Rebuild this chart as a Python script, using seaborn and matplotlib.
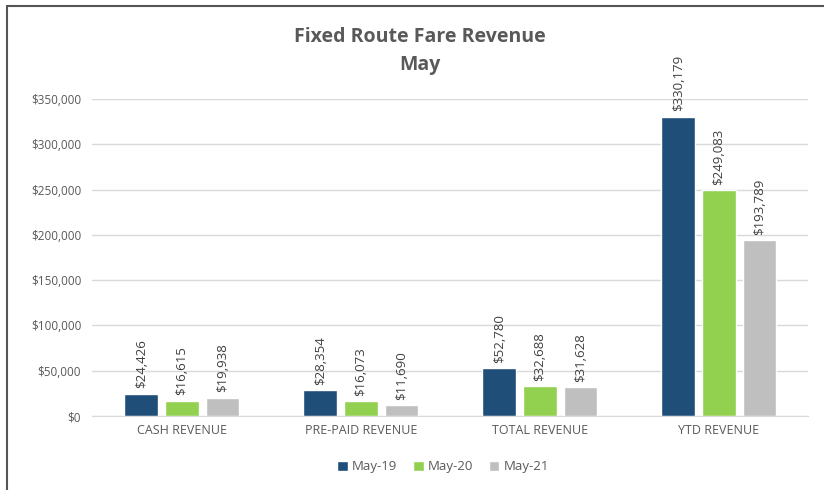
import numpy as np
import pandas as pd
import matplotlib
matplotlib.use("Agg")
import matplotlib.pyplot as plt
import seaborn as sns
from matplotlib.ticker import FuncFormatter

# data
categories = ["CASH REVENUE", "PRE-PAID REVENUE", "TOTAL REVENUE", "YTD REVENUE"]
periods = ["May-19", "May-20", "May-21"]
may19 = [24426, 28354, 52780, 330179]
may20 = [16615, 16073, 32688, 249083]
may21 = [19938, 11690, 31628, 193789]

colors = ["#1F4E79", "#92D050", "#BFBFBF"]

df = pd.DataFrame({
    "category": categories * 3,
    "period": [p for p in periods for _ in categories],
    "revenue": may19 + may20 + may21,
})

sns.set_style("white")
plt.rcParams['font.family'] = ['Open Sans', 'DejaVu Sans']

fig = plt.figure(figsize=(8.24, 4.9), dpi=100)
ax = fig.add_axes([0.112, 0.151, 0.869, 0.647])

sns.barplot(data=df, x="category", y="revenue", hue="period", palette=colors,
            width=0.68, gap=0.17, saturation=1, ax=ax, legend=True)

ax.set_ylim(0, 350000)
ax.set_yticks(np.arange(0, 350001, 50000))
ax.yaxis.set_major_formatter(FuncFormatter(lambda v, p: f"${v:,.0f}"))
ax.grid(axis="y", color="#D9D9D9", linewidth=1)
ax.set_axisbelow(True)
for s in ["top", "right", "left"]:
    ax.spines[s].set_visible(False)
ax.spines["bottom"].set_color("#D9D9D9")
ax.tick_params(axis="y", length=0, labelsize=8.5, colors="#595959", pad=8)
ax.tick_params(axis="x", length=0, labelsize=9, colors="#595959", pad=6)
ax.set_xlabel("")
ax.set_ylabel("")

for cont in ax.containers:
    ax.bar_label(cont, labels=[f"${v:,.0f}" for v in cont.datavalues],
                 rotation=90, padding=4, fontsize=9.5, color="#404040")

fig.text(0.51, 0.925, "Fixed Route Fare Revenue", ha="center", va="center",
         fontsize=14, fontweight="bold", color="#595959")
fig.text(0.51, 0.868, "May", ha="center", va="center",
         fontsize=14, fontweight="bold", color="#595959")

ax.legend(loc="center", bbox_to_anchor=(0.49, -0.16), ncol=3, frameon=False,
          fontsize=9.5, handlelength=0.8, handleheight=0.8, handletextpad=0.3,
          columnspacing=1.2, labelcolor="#595959")

# border lines on the left and top
fig.add_artist(plt.Line2D([0.008, 0.008], [0, 0.988], color="#555555", linewidth=1.5))
fig.add_artist(plt.Line2D([0.008, 1.0], [0.988, 0.988], color="#555555", linewidth=1.5))

fig.savefig("out.png", dpi=100)
